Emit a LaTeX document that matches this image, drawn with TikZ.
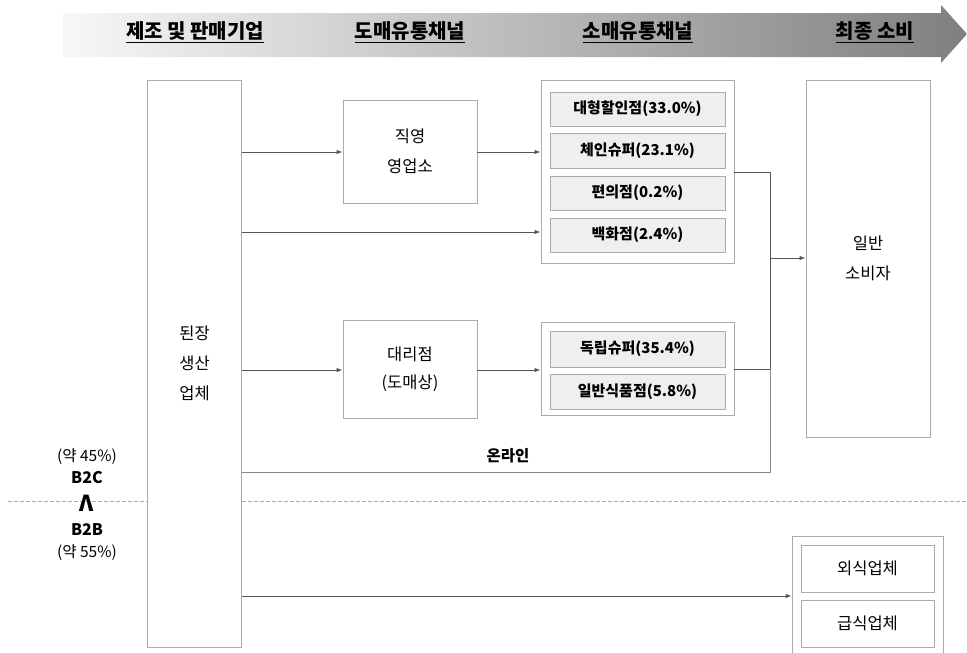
\documentclass[tikz,border=0pt]{standalone}
\usepackage{fontspec}
\setmainfont{Noto Sans CJK KR}
\usetikzlibrary{arrows.meta}
\definecolor{boxgray}{HTML}{ABABAB}
\definecolor{linegray}{HTML}{555555}
\definecolor{innerfill}{HTML}{EFEFEF}
\tikzset{
  box/.style={draw=boxgray, fill=white, line width=0.8pt, align=center, inner sep=0pt,
    font=\fontsize{16.5}{30}\selectfont},
  outerbox/.style={draw=boxgray, fill=white, line width=0.8pt, inner sep=0pt},
  inner/.style={draw=boxgray, fill=innerfill, line width=0.8pt, inner sep=0pt,
    minimum width=175pt, font=\bfseries\fontsize{15}{18}\selectfont},
  innerw/.style={draw=boxgray, fill=white, line width=0.8pt, inner sep=0pt,
    minimum width=133pt, minimum height=47pt, font=\fontsize{16.5}{20}\selectfont},
  conn/.style={draw=linegray, line width=1pt, -{Latex[length=6pt,width=4.5pt]}},
  line/.style={draw=linegray, line width=1pt},
  head/.style={font=\bfseries\fontsize{20}{24}\selectfont},
  side/.style={font=\fontsize{15.5}{18}\selectfont},
  sideb/.style={font=\bfseries\fontsize{16}{18}\selectfont},
}
\begin{document}
\begin{tikzpicture}[x=1pt,y=-1pt]
\useasboundingbox (0,0) rectangle (967,653);
% header arrow
\shade[left color=white!97!black, middle color=black!16, right color=black!50]
  (63,13) -- (941,13) -- (941,5) -- (967,34) -- (941,63) -- (941,57) -- (63,57) -- cycle;
\node[head] (h1) at (195,32) {\underline{제조 및 판매기업}};
\node[head] (h2) at (410,32) {\underline{도매유통채널}};
\node[head] (h3) at (638,32) {\underline{소매유통채널}};
\node[head] (h4) at (875,32) {\underline{최종 소비}};
% dashed divider
\draw[boxgray, line width=0.8pt, dashed, dash pattern=on 4pt off 2pt] (8,501) -- (967,501);
% boxes
\node[box, minimum width=94pt, minimum height=567pt] (maker) at (194.5,363.5) {된장\\생산\\업체};
\node[box, minimum width=134pt, minimum height=103pt] (direct) at (410,151.5) {직영\\영업소};
\node[box, minimum width=134pt, minimum height=98pt, font=\fontsize{16.5}{28}\selectfont] (agent) at (410,369) {대리점\\(도매상)};
\node[outerbox, minimum width=193pt, minimum height=183pt] (r1) at (637.5,171.5) {};
\node[inner, minimum height=34pt] (r11) at (637.5,109) {대형할인점(33.0\%)};
\node[inner, minimum height=35pt] (r12) at (637.5,150.5) {체인슈퍼(23.1\%)};
\node[inner, minimum height=34pt] (r13) at (637.5,193) {편의점(0.2\%)};
\node[inner, minimum height=34pt] (r14) at (637.5,235) {백화점(2.4\%)};
\node[outerbox, minimum width=193pt, minimum height=93pt] (r2) at (637.5,368.5) {};
\node[inner, minimum height=36pt] (r21) at (637.5,349) {독립슈퍼(35.4\%)};
\node[inner, minimum height=35pt] (r22) at (637.5,391.5) {일반식품점(5.8\%)};
\node[box, minimum width=124pt, minimum height=357pt] (cons) at (868,258.5) {일반\\소비자};
\node[outerbox, minimum width=151pt, minimum height=130pt] (food) at (867.5,601) {};
\node[innerw] (f1) at (867.5,568.5) {외식업체};
\node[innerw] (f2) at (867.5,623.5) {급식업체};
% side labels
\node[side] (p45) at (87,457) {(약 45\%)};
\node[sideb] (b2c) at (87,478) {B2C};
\node[font=\bfseries\fontsize{22}{24}\selectfont] (lam) at (87,503) {Λ};
\node[sideb] (b2b) at (87,530) {B2B};
\node[side] (p55) at (87,553) {(약 55\%)};
% junction coordinates
\coordinate (j1) at (770,172);
\coordinate (jm) at (770,258);
\coordinate (j2) at (770,369);
\coordinate (j3) at (770,472);
% connectors
\draw[conn] (maker.east |- 0,152) -- (direct.west |- 0,152);
\draw[conn] (direct.east |- 0,152) -- (r1.west |- 0,152);
\draw[conn] (maker.east |- 0,232) -- (r1.west |- 0,232);
\draw[conn] (maker.east |- 0,370) -- (agent.west |- 0,370);
\draw[conn] (agent.east |- 0,370) -- (r2.west |- 0,370);
\draw[line] (r1.east |- j1) -- (j1) -- (j2);
\draw[line] (r2.east |- j2) -- (j2);
\draw[draw=boxgray!80!black, line width=1pt] (maker.east |- j3) -- (j3) -- (j2);
\draw[conn] (jm) -- (cons.west |- jm);
\draw[conn] (maker.east |- 0,596) -- (food.west |- 0,596);
\node[font=\bfseries\fontsize{15.5}{18}\selectfont] (online) at (508,456) {온라인};
\end{tikzpicture}
\end{document}
